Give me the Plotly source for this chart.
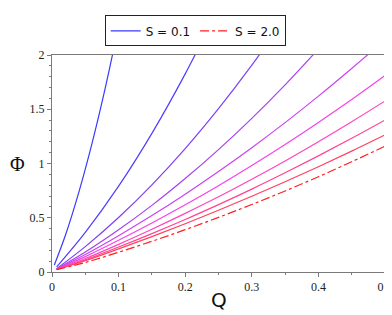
import plotly.graph_objects as go

# Q values for each curve and Phi values
q1 = [0.0035, 0.02, 0.04, 0.06, 0.08, 0.1]
phi1 = [0.065, 0.336, 0.730, 1.184, 1.698, 2.27]

q2 = [0.007, 0.05, 0.1, 0.15, 0.2, 0.25]
phi2 = [0.047, 0.365, 0.791, 1.278, 1.826, 2.436]

q3 = [0.007, 0.05, 0.1, 0.15, 0.2, 0.25, 0.3, 0.35]
phi3 = [0.031, 0.234, 0.502, 0.803, 1.137, 1.505, 1.906, 2.34]

q4 = [0.007, 0.05, 0.1, 0.15, 0.2, 0.25, 0.3, 0.35, 0.4]
phi4 = [0.028, 0.184, 0.389, 0.614, 0.861, 1.128, 1.416, 1.725, 2.055]

q_full = [0.007, 0.05, 0.1, 0.15, 0.2, 0.25, 0.3, 0.35, 0.4, 0.45, 0.5]
phi5 = [0.027, 0.162, 0.335, 0.520, 0.717, 0.926, 1.146, 1.377, 1.621, 1.876, 2.14]
phi6 = [0.026, 0.142, 0.292, 0.451, 0.619, 0.795, 0.981, 1.175, 1.378, 1.589, 1.81]
phi7 = [0.025, 0.124, 0.255, 0.394, 0.540, 0.693, 0.855, 1.024, 1.201, 1.385, 1.576]
phi8 = [0.024, 0.112, 0.230, 0.354, 0.484, 0.621, 0.764, 0.914, 1.070, 1.232, 1.40]
phi9 = [0.023, 0.104, 0.213, 0.326, 0.445, 0.569, 0.698, 0.832, 0.970, 1.114, 1.263]
phi10 = [0.022, 0.088, 0.182, 0.283, 0.390, 0.503, 0.622, 0.747, 0.878, 1.016, 1.16]

curves = [
    (q1, phi1, "#3a3aff", "solid", "S = 0.1", True),
    (q2, phi2, "#4e3cff", "solid", None, False),
    (q3, phi3, "#7e3ef8", "solid", None, False),
    (q4, phi4, "#a442f2", "solid", None, False),
    (q_full, phi5, "#cc42f0", "solid", None, False),
    (q_full, phi6, "#f442ea", "solid", None, False),
    (q_full, phi7, "#ff44c0", "solid", None, False),
    (q_full, phi8, "#ff4490", "solid", None, False),
    (q_full, phi9, "#ff4060", "solid", None, False),
    (q_full, phi10, "#ff2020", "dashdot", "S = 2.0", True),
]

x_ticks = [0, 0.1, 0.2, 0.3, 0.4, 0.5]
x_ticklabels = ["0", "0.1", "0.2", "0.3", "0.4", "0.5"]
y_ticks = [0, 0.5, 1, 1.5, 2]
y_ticklabels = ["0", "0.5", "1", "1.5", "2"]

fig = go.Figure()
for q, phi, color, dash, name, show in curves:
    fig.add_trace(go.Scatter(
        x=q, y=phi, mode="lines", name=name if name else "",
        showlegend=show,
        line=dict(color=color, width=1.2, dash=dash, shape="spline"),
    ))

axis_common = dict(
    showline=True, linecolor="#7a7a7a", linewidth=1, mirror=True,
    showgrid=False, zeroline=False, automargin=False,
    ticks="outside", ticklen=4, tickcolor="#7a7a7a",
    ticklabeloverflow="allow",
    tickfont=dict(family="Liberation Serif, Times New Roman, serif", size=12, color="#222"),
)

fig.update_xaxes(
    range=[0, 0.5], tickvals=x_ticks, ticktext=x_ticklabels,
    minor=dict(dtick=0.05, ticks="outside", ticklen=2, tickcolor="#7a7a7a"),
    **axis_common,
)
fig.update_yaxes(
    range=[0, 2], tickvals=y_ticks, ticktext=y_ticklabels,
    minor=dict(dtick=0.1, ticks="outside", ticklen=2, tickcolor="#7a7a7a"),
    **axis_common,
)

fig.add_annotation(
    text="Q", xref="paper", yref="paper", x=0.5, y=-0.13,
    xanchor="center", yanchor="middle", showarrow=False,
    font=dict(family="DejaVu Sans", size=20, color="#111"),
)
fig.add_annotation(
    text="Φ", xref="paper", yref="paper", x=-0.105, y=0.5,
    xanchor="center", yanchor="middle", showarrow=False,
    font=dict(family="Liberation Serif, serif", size=20, color="#111"),
)

fig.update_layout(
    width=384, height=307,
    margin=dict(l=44, r=7, t=28, b=43),
    paper_bgcolor="white", plot_bgcolor="white",
    legend=dict(
        orientation="h", x=0.43, xanchor="center", y=1.04, yanchor="bottom",
        bordercolor="#222", borderwidth=1, bgcolor="white",
        font=dict(family="DejaVu Sans", size=12, color="#111"),
        itemwidth=30, tracegroupgap=0,
    ),
)

fig.write_html("out.html")
